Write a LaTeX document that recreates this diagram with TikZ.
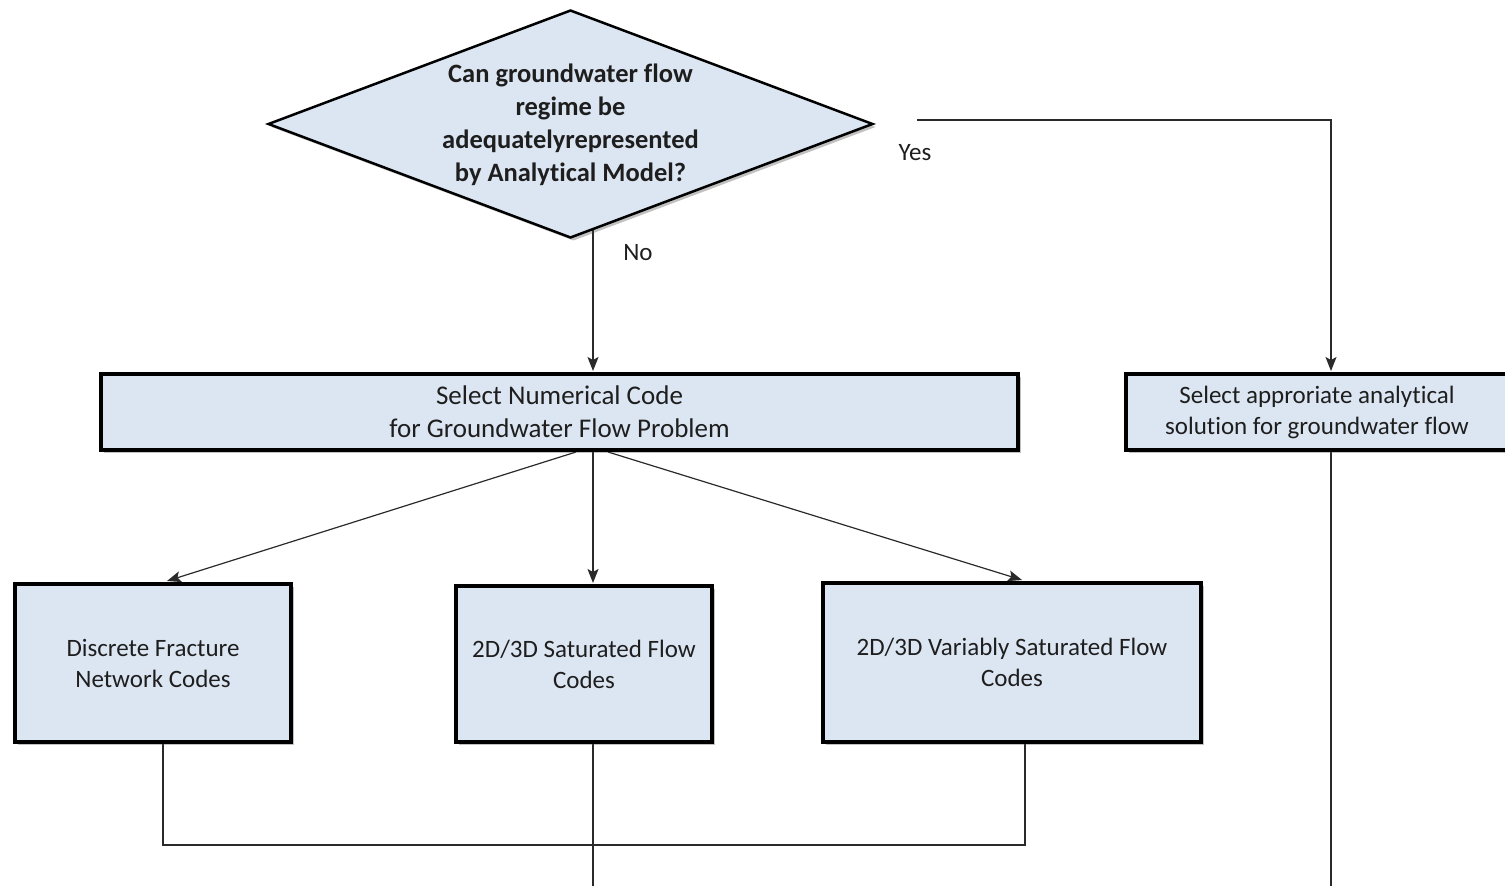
\documentclass[tikz,border=0pt]{standalone}
\usepackage{fontspec}
\setmainfont{Carlito}[Ligatures=NoCommon]
\usetikzlibrary{shapes.geometric,shadows,arrows.meta,backgrounds}
\definecolor{boxfill}{HTML}{DCE6F2}
\definecolor{txt}{HTML}{1E1E1E}
\definecolor{lnk}{HTML}{2A2A2A}
\tikzset{
  shade/.style={drop shadow={shadow xshift=3pt,shadow yshift=-3pt,opacity=0.35,fill=black!70}},
  procbox/.style={draw=black,line width=4pt,fill=boxfill,shade,inner sep=0pt,align=center,text=txt},
  bigtxt/.style={font=\fontsize{27}{33}\selectfont},
  midtxt/.style={font=\fontsize{25}{31}\selectfont},
  decision/.style={shape=diamond,draw=black,line width=2.5pt,fill=boxfill,shade,inner sep=0pt,minimum width=605pt,minimum height=228pt},
  dtext/.style={font=\bfseries\fontsize{26.5}{33}\selectfont,align=center,text=txt},
  link/.style={draw=lnk,line width=1.2pt},
  arr/.style={link,-{Stealth[length=14pt,width=11pt,inset=3pt]}},
  lbl/.style={font=\fontsize{25}{31}\selectfont,text=txt,inner sep=0pt}
}
\begin{document}
\begin{tikzpicture}[x=1pt,y=-1pt]
\useasboundingbox (0,0) rectangle (1505,886);
% nodes
\node[decision] (q) at (570.5,124) {};
\node[dtext] (qt) at (570.5,125) {Can groundwater flow\\regime be\\adequatelyrepresented\\by Analytical Model?};
\node[procbox,bigtxt,minimum width=917pt,minimum height=76pt] (num) at (559.5,412) {Select Numerical Code\\for Groundwater Flow Problem};
\node[procbox,minimum width=386pt,minimum height=76pt] (ana) at (1319,412) {};
\node[midtxt,align=center,text=txt,inner sep=0pt] (anat) at (1317,412.5) {Select approriate analytical\\solution for groundwater flow};
\node[procbox,midtxt,minimum width=276pt,minimum height=158pt] (dfn) at (153,663) {Discrete Fracture\\Network Codes};
\node[procbox,midtxt,minimum width=256pt,minimum height=156pt] (sat) at (584,664) {2D/3D Saturated Flow\\Codes};
\node[procbox,midtxt,minimum width=378pt,minimum height=159pt] (var) at (1012,662.5) {2D/3D Variably Saturated Flow\\Codes};
\node[lbl] (yes) at (915,153) {Yes};
\node[lbl] (no) at (638,253) {No};
% helper coordinates
\coordinate (ys) at (917,120);
\coordinate (ax) at (1331,0);
\coordinate (nx) at (593,0);
\coordinate (la) at (576,0);
\coordinate (ra) at (608,0);
\coordinate (dfx) at (167,0);
\coordinate (vrx) at (1022,0);
\coordinate (dfb) at (163,0);
\coordinate (vrb) at (1025,0);
\coordinate (jn) at (0,845);
\coordinate (bot) at (0,890);
\begin{pgfonlayer}{background}
\draw[arr] (ys) -| ([yshift=1pt]ana.north -| ax);
\draw[arr] (q.center -| nx) -- ([yshift=1pt]num.north -| nx);
\draw[arr] (num.south -| la) -- ([yshift=1pt]dfn.north -| dfx);
\draw[arr] (num.south -| nx) -- ([yshift=1pt]sat.north -| nx);
\draw[arr] (num.south -| ra) -- ([yshift=1pt]var.north -| vrx);
\draw[link] (dfn.center -| dfb) -- (jn -| dfb) -- (jn -| vrb) -- (var.center -| vrb);
\draw[link] (sat.center -| nx) -- (bot -| nx);
\draw[link] (ana.center -| ax) -- (bot -| ax);
\end{pgfonlayer}
\end{tikzpicture}
\end{document}
